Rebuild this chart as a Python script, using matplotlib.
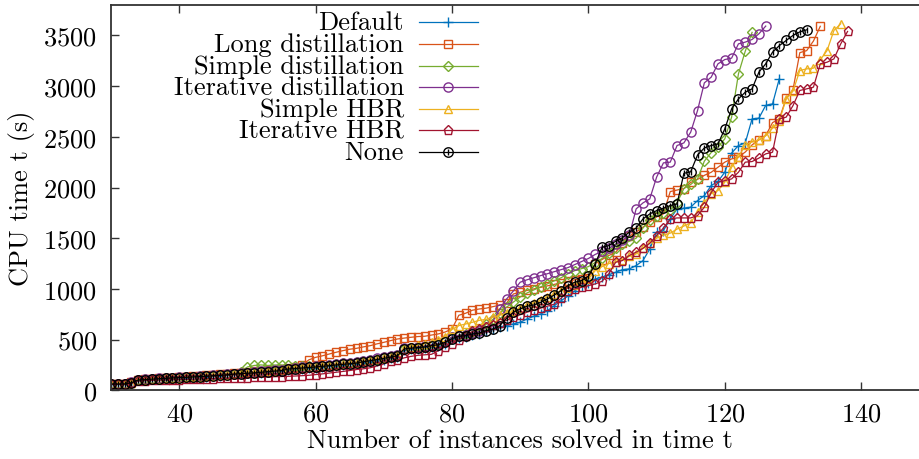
import numpy as np
import matplotlib
matplotlib.use("Agg")
import matplotlib.pyplot as plt
from matplotlib.lines import Line2D

plt.rcParams["font.family"] = ["cmr10", "DejaVu Serif"]
plt.rcParams["axes.formatter.use_mathtext"] = True
plt.rcParams["mathtext.fontset"] = "cm"

# ==========================
# data: CPU time of the k-th solved instance (k starts at 30)
# ==========================
x_start = 30

default_t = [60, 61, 62, 72, 98, 102, 108, 112, 116, 120, 123, 126, 130, 133, 136, 141, 145, 150, 157, 162,
             166, 170, 175, 181, 187, 191,
             200, 206, 212, 218, 224, 230, 236, 243, 250, 256, 262, 272, 282, 292, 302, 315, 330, 395, 405, 412,
             420, 430, 440, 460, 505, 520, 530, 545, 560, 580, 600, 625,
             638, 654, 671, 704, 730, 753, 786, 835, 884, 930, 980, 1030, 1060, 1098, 1115, 1140, 1164, 1190,
             1197, 1230, 1279, 1394, 1559, 1575,
             1690, 1789, 1796, 1806, 1871, 1920, 2019, 2060, 2151, 2340, 2414, 2440, 2677, 2684, 2810, 2825, 3075]

long_dist_t = [62, 63, 64, 78, 104, 108, 114, 118, 122, 126, 130, 134, 138, 142, 146, 152, 156, 162, 170, 175,
               180, 186, 192, 198, 204, 210,
               220, 230, 245, 300, 325, 340, 358, 375, 391, 405, 414, 428, 440, 458, 473, 490, 506, 515, 523,
               530, 533, 545, 556, 575, 605,
               740, 760, 790, 802, 810, 825, 840, 860, 950, 967, 985, 1000, 1015, 1030, 1045, 1060, 1075, 1090,
               1100, 1110, 1250, 1290, 1330, 1360, 1450, 1520, 1560, 1610, 1660, 1710, 1740, 1960, 1975, 1990,
               2050, 2080, 2120, 2150, 2200, 2250, 2282, 2300, 2350, 2420, 2470, 2512, 2640, 2677, 2880, 2965,
               3330, 3350, 3445, 3590]

simple_dist_t = [62, 63, 64, 76, 103, 107, 112, 116, 120, 124, 127, 130, 134, 137, 141, 146, 150, 156, 165, 180,
                 230, 245, 250, 245, 250, 250,
                 245, 240, 238, 236, 238, 242, 250, 258, 265, 272, 280, 290, 300, 312, 325, 338, 350, 412, 420,
                 428, 436, 448, 460, 485, 525, 545, 560, 575, 590,
                 650, 700, 760, 820, 870, 920, 960, 990, 1020, 1050, 1080, 1110, 1150, 1180, 1200, 1220, 1260,
                 1300, 1350, 1400, 1440, 1470, 1500, 1600, 1680, 1720, 1750, 1775, 1850, 1990, 2030, 2085, 2260,
                 2345, 2400, 2480, 2694, 3121, 3345, 3530]

iter_dist_t = [63, 64, 65, 77, 104, 108, 113, 117, 121, 125, 128, 131, 135, 138, 142, 148, 152, 157, 165, 170,
               175, 180, 186, 192, 198, 202,
               215, 220, 226, 232, 238, 244, 252, 260, 266, 273, 280, 292, 302, 314, 326, 340, 352, 415, 422,
               430, 438, 450, 462, 485, 525, 540, 550, 565, 580,
               620, 680, 800, 900, 980, 1066, 1090, 1110, 1131, 1150, 1170, 1190, 1210, 1240, 1270, 1300, 1340,
               1370, 1400, 1440, 1480, 1530, 1789, 1848, 1888, 2102, 2243, 2250, 2414, 2440, 2546, 2759, 3032,
               3088, 3220, 3262, 3276, 3417, 3434, 3460, 3516, 3592]

simple_hbr_t = [62, 63, 64, 76, 103, 106, 111, 115, 119, 123, 126, 129, 133, 136, 139, 145, 148, 154, 162, 166,
                170, 174, 180, 186, 192, 196,
                212, 217, 222, 227, 232, 238, 245, 252, 258, 265, 272, 285, 295, 306, 318, 332, 345, 410, 430,
                445, 460, 480, 500, 530,
                600, 638, 654, 671, 690, 700, 720, 740, 760, 780, 810, 840, 860, 890, 920, 950, 980, 1010, 1040,
                1070, 1100, 1180, 1220, 1250, 1265, 1290, 1320, 1345, 1400, 1450, 1500, 1530, 1550, 1590, 1620,
                1650, 1760, 1850, 1940, 1970, 2052, 2200, 2300, 2420, 2450, 2470, 2510, 2585, 2660, 2874, 2950,
                3154, 3170, 3177, 3260, 3351, 3549, 3615]

iter_hbr_t = [58, 59, 60, 68, 92, 95, 98, 100, 102, 104, 106, 108, 110, 112, 114, 116, 118, 120, 122, 124,
              126, 128, 130, 132, 134, 136,
              138, 141, 144, 148, 155, 162, 170, 178, 186, 195, 205, 212, 222, 240, 260, 285, 300, 320, 335,
              345, 350, 355, 390, 430, 460,
              500, 540, 580, 605, 620, 640, 660, 690, 720, 745, 770, 790, 810, 830, 850, 908, 983, 1000, 1016,
              1032, 1049, 1075, 1150, 1263, 1280, 1330, 1362, 1400, 1450, 1526,
              1600, 1690, 1700, 1700, 1700, 1723, 1806, 1950, 2052, 2068, 2085,
              2151, 2250, 2256, 2290, 2332, 2348, 2677, 2694, 2808, 2957, 2973, 2990, 3220, 3236, 3269, 3417, 3539]

none_t = [62, 62, 63, 75, 102, 105, 110, 114, 118, 122, 125, 128, 132, 135, 138, 144, 147, 152, 160, 164,
          168, 172, 178, 184, 190, 194,
          210, 215, 220, 225, 230, 236, 243, 250, 256, 262, 269, 282, 292, 303, 315, 328, 341, 408, 415, 421,
          428, 440, 450, 473, 510, 533, 539, 556, 565, 588, 605, 638, 710, 770, 802, 829, 842, 868, 901, 940,
          983, 1032, 1066, 1082, 1125,
          1246, 1411, 1427, 1470, 1505, 1560, 1600, 1690, 1740, 1772, 1796, 1822, 1838, 2140, 2155, 2320, 2390,
          2414, 2430, 2578, 2776, 2874, 2940, 2973, 3138, 3220, 3335, 3400, 3450, 3500, 3535, 3555]

labels = ["Default", "Long distillation", "Simple distillation", "Iterative distillation",
          "Simple HBR", "Iterative HBR", "None"]
colors = ["#0072BD", "#D95319", "#77AC30", "#7E2F8E", "#EDB120", "#A2142F", "#000000"]
markers = ["+", "s", "D", "o", "^", "p", "o"]
msizes = [7.5, 6.2, 4.6, 6.6, 6.4, 6.6, 6.8]

series = [default_t, long_dist_t, simple_dist_t, iter_dist_t, simple_hbr_t, iter_hbr_t, none_t]

FS = 19
W, H = 919, 460
fig = plt.figure(figsize=(W / 100, H / 100), dpi=100)
ax = fig.add_axes([111 / W, (H - 391.3) / H, 818.4 / W, 385.3 / H])

for y, lab, c, m, ms in zip(series, labels, colors, markers, msizes):
    x = np.arange(x_start, x_start + len(y))
    ax.plot(x, y, color=c, lw=0.9, marker=m, ms=ms, mfc="none", mec=c, mew=1.0, label=lab)
    if lab == "None":
        ax.plot(x, y, ls="none", marker="|", ms=5, mec=c, mew=1.0)

ax.set_xlim(30, 150)
ax.set_ylim(0, 3800)
ax.set_xticks(np.arange(40, 141, 20))
ax.set_yticks(np.arange(0, 3501, 500))
ax.tick_params(direction="in", length=6, width=1.0, color="#333333", labelsize=FS,
               top=True, right=False, pad=8)
ax.tick_params(axis="y", pad=10)
for s in ax.spines.values():
    s.set_linewidth(1.3)
    s.set_color("#333333")

ax.set_xlabel("Number of instances solved in time t", fontsize=FS, labelpad=2)
ax.set_ylabel("CPU time t (s)", fontsize=FS, labelpad=6)

# gnuplot-like key: right aligned text, sample to the right
text_right = 404 / W
x0, xm, x1 = 419 / W, 448 / W, 478 / W
key_rows = [23, 45, 67, 88, 110, 131, 153]
for py, lab, c, m, ms in zip(key_rows, labels, colors, markers, msizes):
    yf = (H - py) / H
    fig.text(text_right, yf, lab, ha="right", va="center", fontsize=FS)
    fig.add_artist(Line2D([x0, xm, x1], [yf, yf, yf], transform=fig.transFigure, color=c, lw=0.9,
                          marker=m, ms=ms, mfc="none", mec=c, mew=1.0, markevery=[1]))
    if lab == "None":
        fig.add_artist(Line2D([xm], [yf], transform=fig.transFigure, ls="none", marker="|",
                              ms=5, mec=c, mew=1.0))

fig.savefig("out.png", dpi=100)
